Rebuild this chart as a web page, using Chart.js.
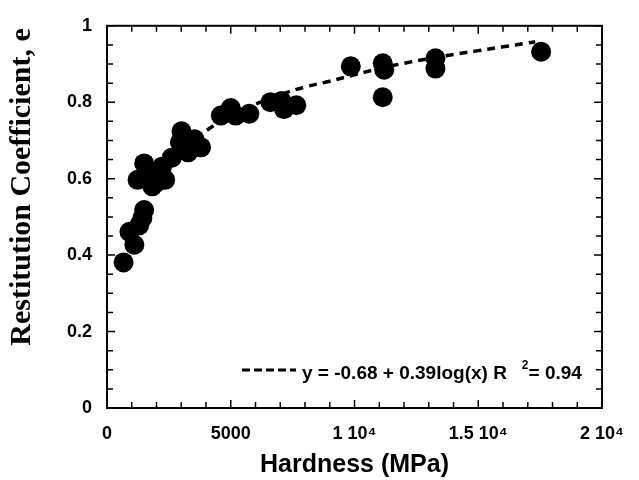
<!DOCTYPE html>
<html><head><meta charset="utf-8">
<script src="https://cdn.jsdelivr.net/npm/chart.js@4.4.1/dist/chart.umd.min.js"></script>
<style>html,body{margin:0;padding:0;background:#fff}#wrap{width:639px;height:480px}</style>
</head><body><div id="wrap"><canvas id="c" width="639" height="480"></canvas></div>
<script>
// Measured points: hardness (MPa) and restitution coefficient e
const hardness    = [670, 907, 1105, 1300, 1430, 1500, 1236, 1500, 1700, 1830, 2000, 2220, 2350, 2617, 2945, 3010, 3275, 3540, 3800, 4600, 5000, 5200, 5750, 6600, 7050, 7150, 7650, 9850, 11140, 11200, 11140, 13270, 13270, 17540];
const restitution = [0.381, 0.461, 0.427, 0.478, 0.497, 0.518, 0.597, 0.640, 0.614, 0.580, 0.590, 0.631, 0.597, 0.655, 0.695, 0.724, 0.669, 0.703, 0.682, 0.765, 0.785, 0.765, 0.770, 0.800, 0.803, 0.782, 0.792, 0.894, 0.902, 0.885, 0.813, 0.915, 0.888, 0.932];
// Fitted curve
const fitHardness    = [2000, 3000, 4000, 5000, 6000, 7000, 8000, 9000, 10000, 11000, 12000, 13000, 14000, 15000, 16000, 17000, 17300];
const fitRestitution = [0.600, 0.670, 0.725, 0.765, 0.795, 0.820, 0.840, 0.855, 0.872, 0.888, 0.902, 0.914, 0.925, 0.935, 0.945, 0.955, 0.958];
// Tick labels
const xTickValues = [0, 5000, 10000, 15000, 20000];
const xTickLabels = ['0', '5000', '1 10\u2074', '1.5 10\u2074', '2 10\u2074'];
const yTickValues = [0, 0.2, 0.4, 0.6, 0.8, 1];
const yTickLabels = ['0', '0.2', '0.4', '0.6', '0.8', '1'];
const xTitle = 'Hardness (MPa)';
const yTitle = 'Restitution Coefficient, e';
const fitLabel = 'y = -0.68 + 0.39log(x) R';
const fitSup = '2';
const fitTail = '= 0.94';

const SANS = '"Liberation Sans", Arial, sans-serif';
const SERIF = '"Liberation Serif", "Times New Roman", serif';

const framePlugin = {
  id: 'frame',
  afterDatasetsDraw(chart) {
    const ctx = chart.ctx, a = chart.chartArea;
    const xs = chart.scales.x, ys = chart.scales.y;
    ctx.save();
    ctx.strokeStyle = '#000';
    ctx.lineWidth = 1.5;
    ctx.beginPath();
    for (let v = 0; v <= 20000; v += 1000) {
      const p = xs.getPixelForValue(v);
      const len = (v % 5000 === 0) ? 8 : 6;
      ctx.moveTo(p, a.bottom); ctx.lineTo(p, a.bottom - len);
      ctx.moveTo(p, a.top); ctx.lineTo(p, a.top + len);
    }
    for (let i = 0; i <= 20; i++) {
      const v = i * 0.05;
      const p = ys.getPixelForValue(v);
      const len = (i % 4 === 0) ? 8 : 6;
      ctx.moveTo(a.left, p); ctx.lineTo(a.left + len, p);
      ctx.moveTo(a.right, p); ctx.lineTo(a.right - len, p);
    }
    ctx.stroke();
    ctx.lineWidth = 2;
    ctx.strokeRect(a.left, a.top, a.right - a.left, a.bottom - a.top);
    ctx.restore();
  },
  afterDraw(chart) {
    const ctx = chart.ctx, a = chart.chartArea;
    ctx.save();
    // y title
    ctx.fillStyle = '#000';
    ctx.translate(22, 187);
    ctx.rotate(-Math.PI / 2);
    ctx.font = 'bold 30px ' + SERIF;
    ctx.textAlign = 'center';
    ctx.textBaseline = 'middle';
    ctx.fillText(yTitle, 0, 0);
    ctx.restore();
    // fit legend
    ctx.save();
    const ly = a.bottom - 34;
    ctx.strokeStyle = '#000';
    ctx.lineWidth = 3;
    ctx.setLineDash([8, 4]);
    ctx.beginPath();
    ctx.moveTo(a.left + 135, ly - 4);
    ctx.lineTo(a.left + 189, ly - 4);
    ctx.stroke();
    ctx.setLineDash([]);
    ctx.fillStyle = '#000';
    ctx.font = 'bold 19px ' + SANS;
    ctx.textAlign = 'left';
    ctx.textBaseline = 'middle';
    let tx = a.left + 195;
    ctx.fillText(fitLabel, tx, ly);
    tx += ctx.measureText(fitLabel).width + 15;
    ctx.font = 'bold 12px ' + SANS;
    ctx.fillText(fitSup, tx, ly - 8);
    tx += ctx.measureText(fitSup).width;
    ctx.font = 'bold 19px ' + SANS;
    ctx.fillText(fitTail, tx, ly);
    ctx.restore();
  }
};

new Chart(document.getElementById('c'), {
  type: 'scatter',
  data: {
    datasets: [
      {
        label: 'data',
        data: hardness.map((h, i) => ({ x: h, y: restitution[i] })),
        pointRadius: 10,
        pointHoverRadius: 10,
        backgroundColor: '#000',
        borderWidth: 0,
        order: 0
      },
      {
        type: 'line',
        label: 'fit',
        data: fitHardness.map((h, i) => ({ x: h, y: fitRestitution[i] })),
        showLine: true,
        borderColor: '#000',
        borderWidth: 3.5,
        borderDash: [8, 6],
        pointRadius: 0,
        tension: 0.4,
        fill: false,
        order: 1
      }
    ]
  },
  options: {
    responsive: false,
    animation: false,
    devicePixelRatio: 1,
    layout: { padding: { top: 15, right: 25, left: 0, bottom: 0 } },
    plugins: { legend: { display: false }, tooltip: { enabled: false } },
    scales: {
      x: {
        type: 'linear', min: 0, max: 20000,
        afterBuildTicks(s) { s.ticks = xTickValues.map(v => ({ value: v })); },
        afterFit(s) { s.height = 72; },
        ticks: {
          callback(v) { const i = xTickValues.indexOf(v); return i >= 0 ? xTickLabels[i] : ''; },
          font: { family: SANS, size: 18, weight: 'bold' }, color: '#000', padding: 15, maxRotation: 0, autoSkip: false
        },
        grid: { display: false, drawTicks: false },
        border: { display: false },
        title: { display: true, text: xTitle, font: { family: SANS, size: 25, weight: 'bold' }, color: '#000', padding: { top: 0, bottom: 0 } }
      },
      y: {
        type: 'linear', min: 0, max: 1,
        afterBuildTicks(s) { s.ticks = yTickValues.map(v => ({ value: v })); },
        afterFit(s) { s.width = 107; },
        ticks: {
          callback(v) { const i = yTickValues.findIndex(t => Math.abs(t - v) < 1e-9); return i >= 0 ? yTickLabels[i] : ''; },
          font: { family: SANS, size: 18, weight: 'bold' }, color: '#000', padding: 15
        },
        grid: { display: false, drawTicks: false },
        border: { display: false }
      }
    }
  },
  plugins: [framePlugin]
});
</script>
</body></html>
